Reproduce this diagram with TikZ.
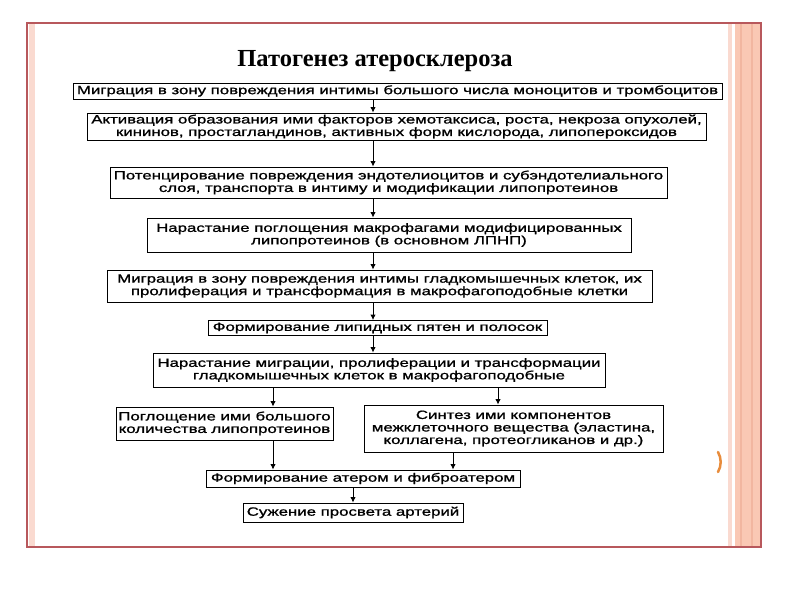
\documentclass[tikz,border=0pt]{standalone}
\usepackage{fontspec}
\usepackage{tikz}
\usetikzlibrary{arrows.meta}
\newfontfamily\boxfont[FakeStretch=1.40,FakeBold=1.2]{Liberation Sans}
\newfontfamily\titlefont{Liberation Serif}
\definecolor{framered}{RGB}{184,88,92}
\definecolor{stripelight}{RGB}{250,218,208}
\definecolor{stripesalmon}{RGB}{250,200,180}
\definecolor{stripedark}{RGB}{242,182,160}
\definecolor{dotorange}{RGB}{232,140,60}
\tikzset{
	box/.style={draw, line width=0.9pt, inner sep=0pt, align=center,
		font=\boxfont\fontsize{12}{12.5}\selectfont},
	arr/.style={-{Latex[length=5.5pt,width=5.5pt]}, line width=0.9pt}
}

\begin{document}
\begin{tikzpicture}[x=1pt, y=-1pt]
		\useasboundingbox (0, 0) rectangle (800, 600);
		% slide frame
		\fill[stripelight] (29, 24) rectangle (35, 546);
		\fill[stripelight] (728, 24) rectangle (732, 546);
		\fill[stripesalmon] (735, 24) rectangle (760, 546);
		\fill[stripedark] (740, 24) rectangle (742, 546);
		\fill[stripedark] (751, 24) rectangle (753, 546);
		\draw[framered, line width=2pt] (27, 23) rectangle (761, 547);
		\draw[dotorange, line width=2.5pt, line cap=round] (718, 472) arc (30:-30:20);
		
		\node[font=\titlefont\bfseries\fontsize{24.5}{28}\selectfont] (title) at (375, 61) {Патогенез атеросклероза};
		
		\node[box, minimum width=649pt, minimum height=16pt] (b1) at (397.5, 91)
			{Миграция в зону повреждения интимы большого числа моноцитов и тромбоцитов};
		\node[box, minimum width=619pt, minimum height=27pt] (b2) at (396.5, 126.5)
			{Активация образования ими факторов хемотаксиса, роста, некроза опухолей,\\
			кининов, простагландинов, активных форм кислорода, липопероксидов};
		\node[box, minimum width=557pt, minimum height=31pt] (b3) at (388.5, 182.5)
			{Потенцирование повреждения эндотелиоцитов и субэндотелиального\\
			слоя, транспорта в интиму и модификации липопротеинов};
		\node[box, minimum width=484pt, minimum height=34pt] (b4) at (389, 235)
			{Нарастание поглощения макрофагами модифицированных\\
			липопротеинов (в основном ЛПНП)};
		\node[box, minimum width=545pt, minimum height=32pt] (b5) at (379.5, 286)
			{Миграция в зону повреждения интимы гладкомышечных клеток, их\\
			пролиферация и трансформация в макрофагоподобные клетки};
		\node[box, minimum width=339pt, minimum height=15pt] (b6) at (377.5, 328)
			{Формирование липидных пятен и полосок};
		\node[box, minimum width=452pt, minimum height=34pt] (b7) at (379, 370)
			{Нарастание миграции, пролиферации и трансформации\\
			гладкомышечных клеток в макрофагоподобные};
		\node[box, minimum width=217pt, minimum height=33pt] (b8) at (224.5, 423.5)
			{Поглощение ими большого\\
			количества липопротеинов};
		\node[box, minimum width=299pt, minimum height=47pt] (b9) at (513.5, 428.5)
			{Синтез ими компонентов\\
			межклеточного вещества (эластина,\\
			коллагена, протеогликанов и др.)};
		\node[box, minimum width=314pt, minimum height=17pt] (b10) at (363, 478.5)
			{Формирование атером и фиброатером};
		\node[box, minimum width=220pt, minimum height=19pt] (b11) at (353, 512.5)
			{Сужение просвета артерий};
		
		\coordinate (spine) at (373, 0);
		\coordinate (lft) at (273, 0);
		\coordinate (rgt) at (498, 0);
		\coordinate (mrg) at (453, 0);
		\coordinate (end) at (353, 0);
		\draw[arr] (b1.south -| spine) -- (b2.north -| spine);
		\draw[arr] (b2.south -| spine) -- (b3.north -| spine);
		\draw[arr] (b3.south -| spine) -- (b4.north -| spine);
		\draw[arr] (b4.south -| spine) -- (b5.north -| spine);
		\draw[arr] (b5.south -| spine) -- (b6.north -| spine);
		\draw[arr] (b6.south -| spine) -- (b7.north -| spine);
		\draw[arr] (b7.south -| lft) -- (b8.north -| lft);
		\draw[arr] (b7.south -| rgt) -- (b9.north -| rgt);
		\draw[arr] (b8.south -| lft) -- (b10.north -| lft);
		\draw[arr] (b9.south -| mrg) -- (b10.north -| mrg);
		\draw[arr] (b10.south -| end) -- (b11.north -| end);
\end{tikzpicture}
\end{document}
